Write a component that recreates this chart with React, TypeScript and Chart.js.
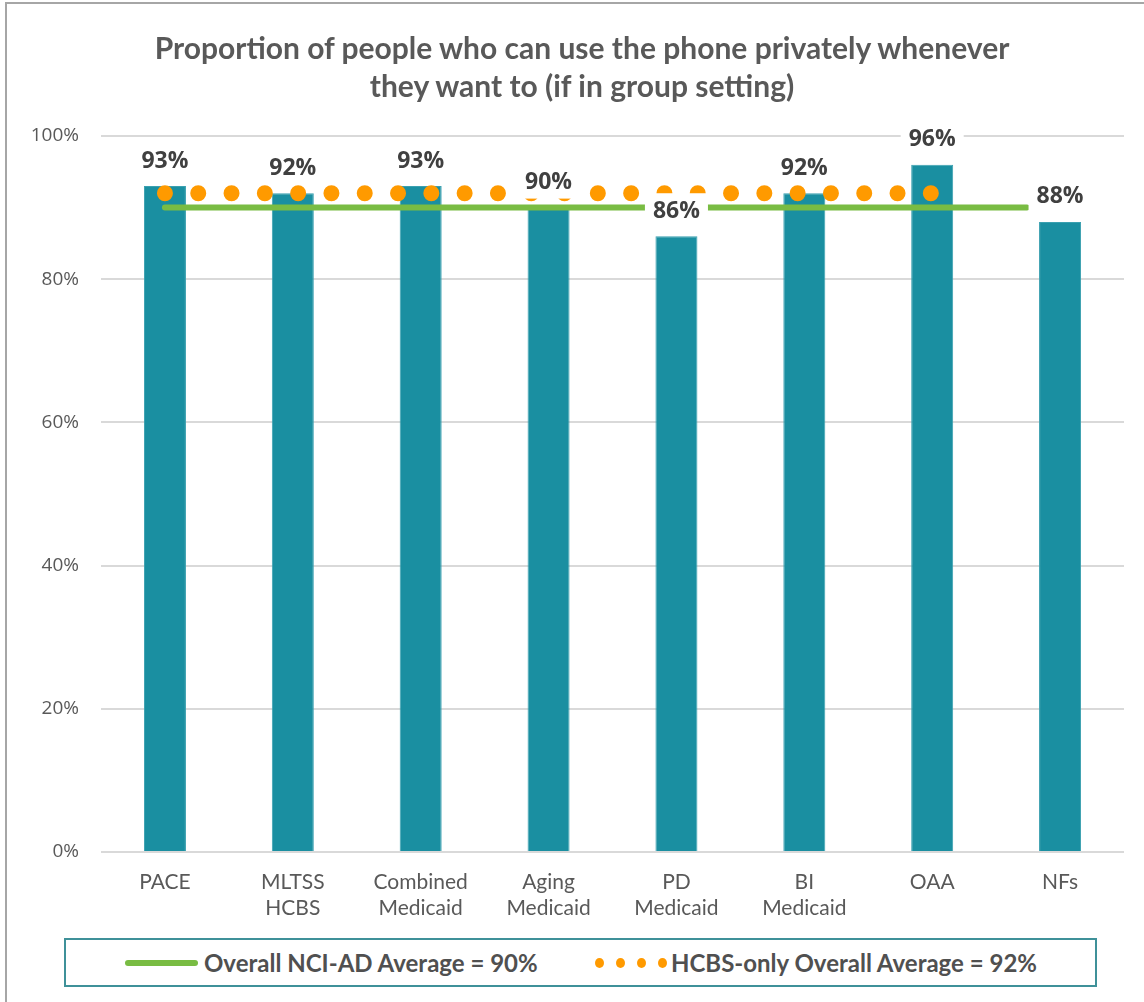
import React, { useEffect, useRef } from 'react';
import { Chart, registerables } from 'chart.js';

Chart.register(...registerables);

const categories: string[][] = [
  ['PACE'],
  ['MLTSS', 'HCBS'],
  ['Combined', 'Medicaid'],
  ['Aging', 'Medicaid'],
  ['PD', 'Medicaid'],
  ['BI', 'Medicaid'],
  ['OAA'],
  ['NFs'],
];
const barValues = [93, 92, 93, 90, 86, 92, 96, 88];

// Reference lines: [start category position, end category position] and value
const overallAverage = 90;
const overallSpan = [0, 6.74];
const hcbsAverage = 92;
const hcbsSpan = [0, 6];

const yTickValues = [0, 20, 40, 60, 80, 100];

const titleLines = [
  'Proportion of people who can use the phone privately whenever',
  'they want to (if in group setting)',
];
const legendLabels = ['Overall NCI-AD Average = 90%', 'HCBS-only Overall Average = 92%'];

const TEAL = '#1a8fa1';
const GREEN = '#79bc43';
const ORANGE = '#ff9a00';

const barLabelPlugin = {
  id: 'barLabels',
  afterDatasetsDraw(chart: any) {
    const meta = chart.getDatasetMeta(0);
    const ctx = chart.ctx as CanvasRenderingContext2D;
    ctx.save();
    ctx.font = 'bold 23px "Open Sans"';
    ctx.textAlign = 'center';
    ctx.textBaseline = 'middle';
    meta.data.forEach((bar: any, i: number) => {
      const text = barValues[i] + '%';
      const x = bar.x;
      const y = bar.y - 26;
      const w = ctx.measureText(text).width + 16;
      ctx.fillStyle = '#ffffff';
      ctx.fillRect(x - w / 2, y - 17, w, 34);
      ctx.fillStyle = '#404040';
      ctx.fillText(text, x, y + 1);
    });
    ctx.restore();
  },
};

export default function App() {
  const canvasRef = useRef<HTMLCanvasElement | null>(null);

  useEffect(() => {
    document.body.style.margin = '0';
    const canvas = canvasRef.current;
    if (!canvas) return;
    const chart = new Chart(canvas, {
      type: 'bar',
      data: {
        labels: categories as any,
        datasets: [
          {
            type: 'bar',
            label: 'Proportion',
            data: barValues,
            backgroundColor: TEAL,
            borderColor: '#3aa0b0',
            borderWidth: 1,
            grouped: false,
            barPercentage: 0.9,
            categoryPercentage: 1,
            maxBarThickness: 42,
            order: 3,
          } as any,
          {
            type: 'line',
            label: legendLabels[1],
            data: hcbsSpan.map((x) => ({ x, y: hcbsAverage })),
            xAxisID: 'x2',
            borderColor: ORANGE,
            borderWidth: 16,
            borderDash: [0, 33.3],
            borderCapStyle: 'round',
            pointRadius: 0,
            fill: false,
            order: 1,
          } as any,
          {
            type: 'line',
            label: legendLabels[0],
            data: overallSpan.map((x) => ({ x, y: overallAverage })),
            xAxisID: 'x2',
            borderColor: GREEN,
            borderWidth: 6,
            borderCapStyle: 'round',
            pointRadius: 0,
            fill: false,
            order: 2,
          } as any,
        ],
      },
      options: {
        animation: false,
        responsive: false,
        maintainAspectRatio: false,
        layout: { padding: { top: 136, left: 0, right: 20, bottom: 0 } },
        plugins: {
          legend: { display: false },
          title: { display: false },
          tooltip: { enabled: false },
        },
        scales: {
          x: {
            type: 'category',
            offset: true,
            grid: { display: false, drawTicks: false },
            border: { display: false },
            ticks: {
              color: '#595959',
              font: { family: 'Lato', size: 21, lineHeight: 1.25 },
              padding: 17,
              maxRotation: 0,
              autoSkip: false,
            },
            afterFit: (scale: any) => {
              scale.height = 78;
            },
          },
          x2: {
            type: 'linear',
            display: false,
            offset: false,
            bounds: 'data',
            grid: { offset: false },
            min: -0.5,
            max: categories.length - 0.5,
          },
          y: {
            min: 0,
            max: 100,
            afterBuildTicks: (scale: any) => {
              scale.ticks = yTickValues.map((v) => ({ value: v }));
            },
            grid: { color: '#d9d9d9', lineWidth: 2, drawTicks: false },
            border: { display: false },
            ticks: {
              color: '#595959',
              font: { family: 'Open Sans', size: 19 },
              padding: 22,
              callback: (v: any) => v + '%',
            },
            afterFit: (scale: any) => {
              scale.width = 101;
            },
          },
        },
      } as any,
      plugins: [barLabelPlugin],
    });
    return () => chart.destroy();
  }, []);

  const dotXs = [599, 620, 641, 662];

  return (
    <div style={{ position: 'relative', width: 1144, height: 1002, overflow: 'hidden', background: '#fff' }}>
      <div
        style={{
          position: 'absolute',
          left: 5,
          top: 2,
          width: 1160,
          height: 1020,
          borderLeft: '2px solid #a6a6a6',
          borderTop: '2px solid #a6a6a6',
          boxSizing: 'border-box',
        }}
      />
      <canvas ref={canvasRef} width={1144} height={930} style={{ position: 'absolute', left: 0, top: 0 }} />
      <div
        style={{
          position: 'absolute',
          left: 82,
          width: 1000,
          top: 28,
          textAlign: 'center',
          fontFamily: 'Lato',
          fontWeight: 700,
          fontSize: 30,
          lineHeight: '38px',
          color: '#595959',
          whiteSpace: 'nowrap',
        }}
      >
        {titleLines.map((l, i) => (
          <div key={i}>{l}</div>
        ))}
      </div>
      <div
        style={{
          position: 'absolute',
          left: 64,
          top: 938,
          width: 1033,
          height: 49,
          border: '2px solid #3f9199',
          boxSizing: 'border-box',
        }}
      />
      <div
        style={{
          position: 'absolute',
          left: 125,
          top: 960,
          width: 73,
          height: 6,
          borderRadius: 3,
          background: GREEN,
        }}
      />
      {dotXs.map((x, i) => (
        <div
          key={i}
          style={{
            position: 'absolute',
            left: x - 4.5,
            top: 963 - 5,
            width: 9,
            height: 10,
            borderRadius: '50%',
            background: ORANGE,
          }}
        />
      ))}
      {legendLabels.map((t, i) => (
        <div
          key={t}
          style={{
            position: 'absolute',
            left: i === 0 ? 204 : 671,
            top: 947,
            height: 32,
            lineHeight: '32px',
            fontFamily: 'Lato',
            fontWeight: 700,
            fontSize: 24,
            color: '#505050',
            whiteSpace: 'nowrap',
          }}
        >
          {t}
        </div>
      ))}
    </div>
  );
}
